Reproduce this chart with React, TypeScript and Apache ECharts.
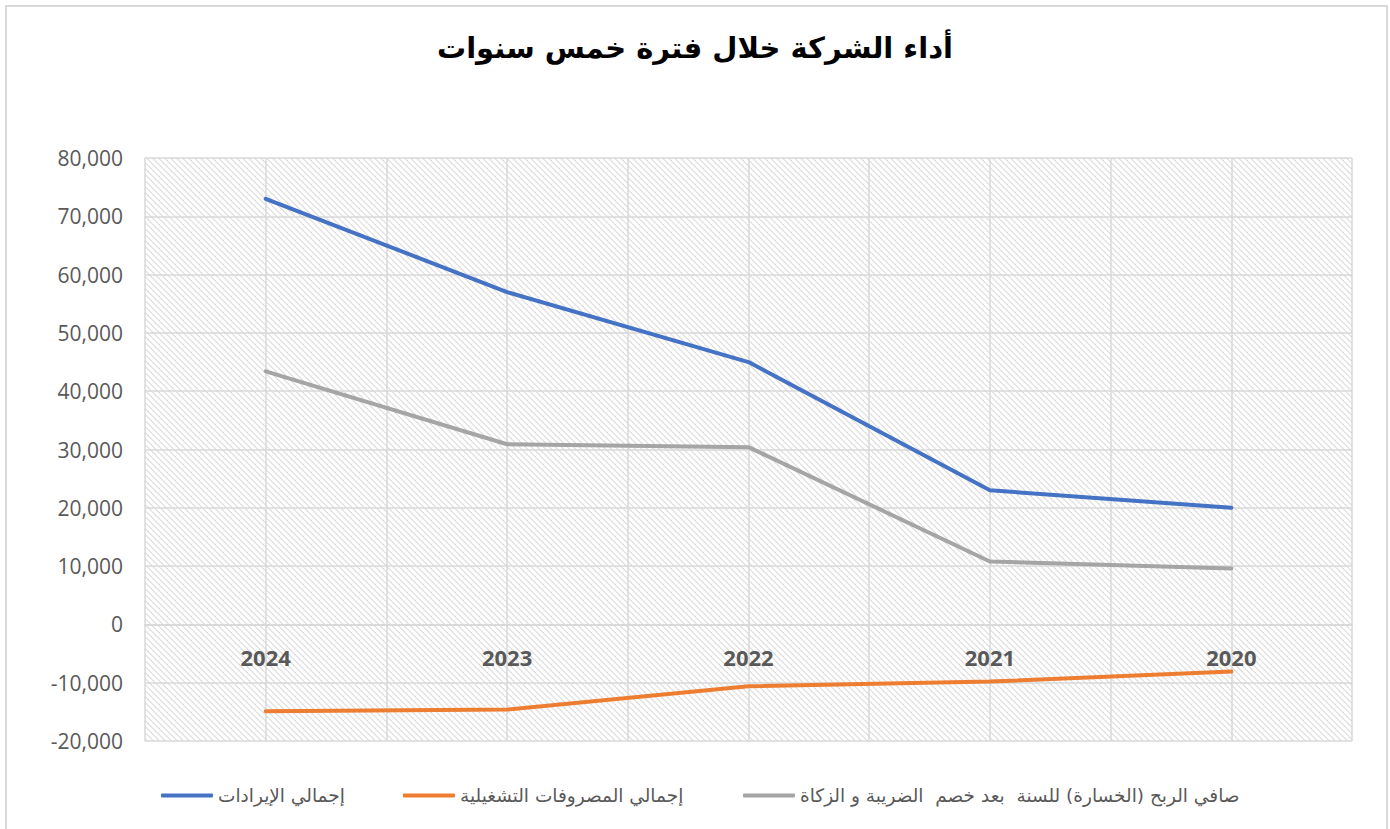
import React, { useEffect, useRef } from "react";
import * as echarts from "echarts";

const titleText = "أداء الشركة خلال فترة خمس سنوات";
const years = ["2024", "2023", "2022", "2021", "2020"];
const halfTicks = ["a", "b", "c", "d", "e", "f", "g", "h", "i", "j"];
const revenueName = "إجمالي الإيرادات";
const expensesName = "إجمالي المصروفات التشغيلية";
const profitName = "صافي الربح (الخسارة) للسنة  بعد خصم  الضريبة و الزكاة";
const revenue = [73000, 57000, 45000, 23000, 20000];
const expenses = [-14900, -14600, -10600, -9800, -8100];
const profit = [43400, 30900, 30400, 10800, 9600];

function makePattern(): string {
  const c = document.createElement("canvas");
  c.width = 6;
  c.height = 6;
  const ctx = c.getContext("2d")!;
  ctx.fillStyle = "#ffffff";
  ctx.fillRect(0, 0, 6, 6);
  ctx.fillStyle = "#e4e4e4";
  for (let i = 0; i < 6; i++) {
    ctx.fillRect(i, i, 1, 1);
    ctx.fillRect((i + 1) % 6, i, 1, 1);
  }
  return c.toDataURL();
}

export default function App() {
  const ref = useRef<HTMLDivElement>(null);
  useEffect(() => {
    document.body.style.margin = "0";
    const chart = echarts.init(ref.current!, null, { renderer: "svg" });
    const pat = { image: makePattern(), repeat: "repeat" };
    const legendBase = {
      top: 781,
      icon: "roundRect",
      itemWidth: 52,
      itemHeight: 4,
      textStyle: { fontSize: 18.5, color: "#595959", fontFamily: "DejaVu Sans, sans-serif" },
    };
    chart.setOption({
      animation: false,
      backgroundColor: "#ffffff",
      title: {
        text: titleText,
        left: "center",
        top: 28,
        textStyle: { fontSize: 29, fontWeight: "bold", color: "#000000", fontFamily: "DejaVu Sans, sans-serif" },
      },
      graphic: [
        {
          type: "rect",
          shape: { x: 6, y: 6, width: 1381, height: 840 },
          style: { fill: "none", stroke: "#d9d9d9", lineWidth: 2 },
          silent: true,
        },
      ],
      grid: {
        left: 145,
        right: 38,
        top: 158,
        bottom: 88,
        show: true,
        backgroundColor: pat,
        borderWidth: 0,
      },
      legend: [
        { ...legendBase, left: 156, data: [revenueName] },
        { ...legendBase, left: 398, data: [expensesName] },
        { ...legendBase, left: 738, data: [profitName] },
      ],
      xAxis: [
        {
          type: "category",
          data: years,
          boundaryGap: true,
          position: "bottom",
          offset: -116.6,
          axisLine: { show: true, onZero: false, lineStyle: { color: "#d9d9d9", width: 2 } },
          axisTick: { show: false },
          axisLabel: {
            fontSize: 22,
            fontWeight: "bold",
            color: "#595959",
            margin: 22,
            fontFamily: "Open Sans, Noto Sans, sans-serif",
          },
          splitLine: { show: false },
        },
        {
          type: "category",
          data: halfTicks,
          boundaryGap: true,
          position: "top",
          axisLine: { show: false },
          axisTick: { show: false },
          axisLabel: { show: false },
          splitLine: { show: true, interval: 0, lineStyle: { color: "#d9d9d9", width: 1.5 } },
        },
      ],
      yAxis: {
        type: "value",
        min: -20000,
        max: 80000,
        interval: 10000,
        axisLine: { show: false },
        axisTick: { show: false },
        axisLabel: {
          fontSize: 21,
          color: "#595959",
          margin: 22,
          fontFamily: "Open Sans, Noto Sans, sans-serif",
          formatter: (v: number) => v.toLocaleString("en-US"),
        },
        splitLine: { lineStyle: { color: "#d9d9d9", width: 1.5 } },
      },
      series: [
        {
          name: revenueName,
          type: "line",
          data: revenue,
          symbol: "none",
          lineStyle: { color: "#4472C4", width: 4, cap: "round" },
          itemStyle: { color: "#4472C4" },
          z: 5,
        },
        {
          name: expensesName,
          type: "line",
          data: expenses,
          symbol: "none",
          lineStyle: { color: "#ED7D31", width: 4, cap: "round" },
          itemStyle: { color: "#ED7D31" },
          z: 4,
        },
        {
          name: profitName,
          type: "line",
          data: profit,
          symbol: "none",
          lineStyle: { color: "#A5A5A5", width: 4, cap: "round" },
          itemStyle: { color: "#A5A5A5" },
          z: 3,
        },
      ],
    });
    return () => chart.dispose();
  }, []);
  return <div ref={ref} style={{ width: 1390, height: 829 }} />;
}
